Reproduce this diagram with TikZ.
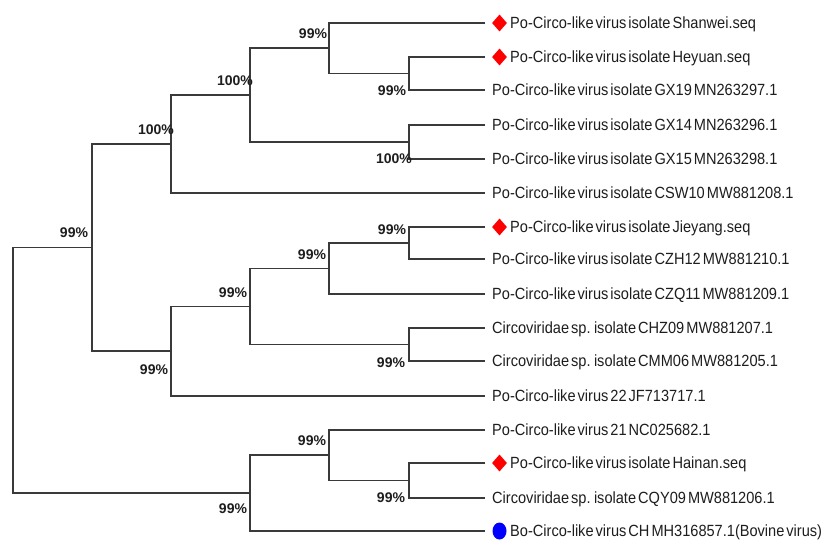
\documentclass[tikz,border=0pt]{standalone}
\usepackage{fontspec}
\setmainfont{Liberation Sans}
\newfontfamily\leaffont[FakeStretch=0.9,WordSpace=0.5]{Liberation Sans}
\usetikzlibrary{calc,shapes.geometric}
\definecolor{branch}{HTML}{3A3A3A}
\definecolor{txt}{HTML}{1E1E1E}
\begin{document}
\begin{tikzpicture}[x=1pt,y=-1pt,
  br/.style={draw=branch,line width=1.6pt},
  leaf/.style={anchor=west,inner sep=0pt,text height=11.6pt,text depth=0pt,
    font=\leaffont\fontsize{16.2}{18}\selectfont,text=txt},
  bs/.style={font=\bfseries\fontsize{14}{16}\selectfont,text=txt,inner sep=0pt},
  dia/.style={diamond,fill=red,minimum width=15pt,minimum height=17pt,inner sep=0pt},
  dot/.style={ellipse,fill=blue,minimum width=14pt,minimum height=17pt,inner sep=0pt}]
\useasboundingbox[fill=white] (0,0) rectangle (829,555);

% leaf end points
\coordinate (l1) at (485,23);
\coordinate (l2) at (485,57);
\coordinate (l3) at (485,90);
\coordinate (l4) at (485,125);
\coordinate (l5) at (485,159);
\coordinate (l6) at (485,193);
\coordinate (l7) at (485,227);
\coordinate (l8) at (485,259);
\coordinate (l9) at (485,294);
\coordinate (l10) at (485,328);
\coordinate (l11) at (485,361);
\coordinate (l12) at (485,396);
\coordinate (l13) at (485,430);
\coordinate (l14) at (485,463);
\coordinate (l15) at (485,498);
\coordinate (l16) at (485,531);

% internal nodes
\coordinate (E) at (409,73.5);
\coordinate (D) at (329,48.25);
\coordinate (F) at (409,142);
\coordinate (C) at (250,95.1);
\coordinate (B) at (171,144);
\coordinate (G) at (409,243);
\coordinate (H) at (329,268.5);
\coordinate (J) at (409,344.5);
\coordinate (I) at (250,306.5);
\coordinate (K) at (171,351.25);
\coordinate (A) at (92,247.6);
\coordinate (N) at (409,480.5);
\coordinate (M) at (329,455.25);
\coordinate (L) at (250,493.1);
\coordinate (R) at (13,370.35);

% branches
\draw[br] (l2) -| (E) |- (l3);
\draw[br] (l1) -| (D) |- (E);
\draw[br] (l4) -| (F) |- (l5);
\draw[br] (D) -| (C) |- (F);
\draw[br] (C) -| (B) |- (l6);
\draw[br] (l7) -| (G) |- (l8);
\draw[br] (G) -| (H) |- (l9);
\draw[br] (l10) -| (J) |- (l11);
\draw[br] (H) -| (I) |- (J);
\draw[br] (I) -| (K) |- (l12);
\draw[br] (B) -| (A) |- (K);
\draw[br] (l14) -| (N) |- (l15);
\draw[br] (l13) -| (M) |- (N);
\draw[br] (M) -| (L) |- (l16);
\draw[br] (A) -| (R) |- (L);

% bootstrap values
\node[bs] (bD) at ($(D)+(-16,-14.5)$) {99\%};
\node[bs] (bE) at ($(E)+(-17,17.5)$) {99\%};
\node[bs] (bC) at ($(C)+(-15,-14.5)$) {100\%};
\node[bs] (bB) at ($(B)+(-15,-14.5)$) {100\%};
\node[bs] (bF) at ($(F)+(-15,17)$) {100\%};
\node[bs] (bA) at ($(A)+(-18,-15)$) {99\%};
\node[bs] (bG) at ($(G)+(-17,-13.5)$) {99\%};
\node[bs] (bH) at ($(H)+(-17,-13.5)$) {99\%};
\node[bs] (bI) at ($(I)+(-17,-13.5)$) {99\%};
\node[bs] (bJ) at ($(J)+(-18,18.5)$) {99\%};
\node[bs] (bK) at ($(K)+(-17,18)$) {99\%};
\node[bs] (bM) at ($(M)+(-17,-15)$) {99\%};
\node[bs] (bN) at ($(N)+(-18,17.5)$) {99\%};
\node[bs] (bL) at ($(L)+(-17,16)$) {99\%};

% markers
\node[dia] (m1) at (499.5,23) {};
\node[dia] (m2) at (499.5,57) {};
\node[dia] (m7) at (499.5,227) {};
\node[dia] (m14) at (499.5,463) {};
\node[dot] (m16) at (499.5,531) {};

% leaf labels
\node[leaf] (t1) at (510,23) {Po-Circo-like virus isolate Shanwei.seq};
\node[leaf] (t2) at (510,57) {Po-Circo-like virus isolate Heyuan.seq};
\node[leaf] (t3) at (492,90) {Po-Circo-like virus isolate GX19 MN263297.1};
\node[leaf] (t4) at (492,125) {Po-Circo-like virus isolate GX14 MN263296.1};
\node[leaf] (t5) at (492,159) {Po-Circo-like virus isolate GX15 MN263298.1};
\node[leaf] (t6) at (492,193) {Po-Circo-like virus isolate CSW10 MW881208.1};
\node[leaf] (t7) at (510,227) {Po-Circo-like virus isolate Jieyang.seq};
\node[leaf] (t8) at (492,259) {Po-Circo-like virus isolate CZH12 MW881210.1};
\node[leaf] (t9) at (492,294) {Po-Circo-like virus isolate CZQ11 MW881209.1};
\node[leaf] (t10) at (492,328) {Circoviridae sp. isolate CHZ09 MW881207.1};
\node[leaf] (t11) at (492,361) {Circoviridae sp. isolate CMM06 MW881205.1};
\node[leaf] (t12) at (492,396) {Po-Circo-like virus 22 JF713717.1};
\node[leaf] (t13) at (492,430) {Po-Circo-like virus 21 NC025682.1};
\node[leaf] (t14) at (510,463) {Po-Circo-like virus isolate Hainan.seq};
\node[leaf] (t15) at (492,498) {Circoviridae sp. isolate CQY09 MW881206.1};
\node[leaf] (t16) at (510,531) {Bo-Circo-like virus CH MH316857.1(Bovine virus)};
\end{tikzpicture}
\end{document}
